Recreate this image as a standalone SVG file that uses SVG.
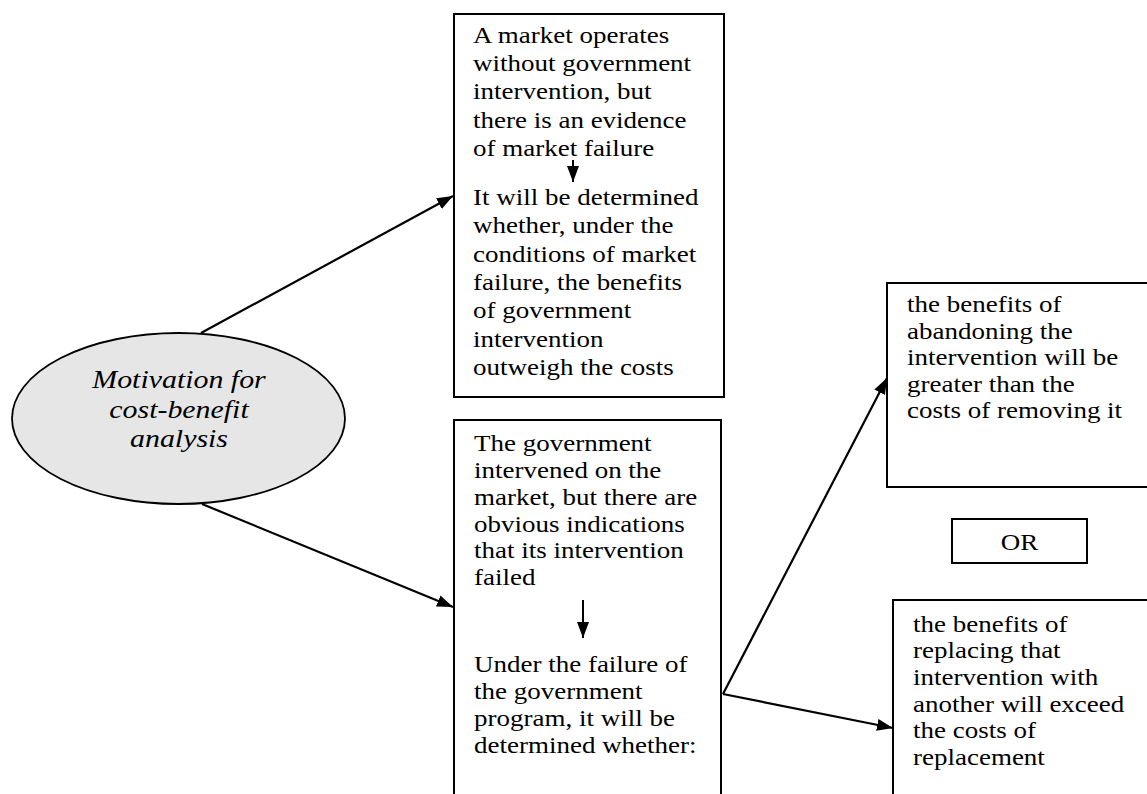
<svg xmlns="http://www.w3.org/2000/svg" width="1147" height="794" viewBox="0 0 1147 794">
<defs>
<style>
.box{fill:#fff;stroke:#000;stroke-width:2}
.t{font-family:"Liberation Serif","Times New Roman","DejaVu Serif",serif;font-size:24px;fill:#000}
.ti{font-family:"Liberation Serif","Times New Roman","DejaVu Serif",serif;font-size:26px;font-style:italic;fill:#000}
.c{fill:none;stroke:#000;stroke-width:2.2}
</style>
<marker id="ah" markerUnits="userSpaceOnUse" markerWidth="18" markerHeight="14" refX="16" refY="6" orient="auto">
<path d="M0,0 L16,6 L0,12 Z" fill="#000"/>
</marker>
</defs>
<rect width="1147" height="794" fill="#fff"/>

<g id="node-motivation">
<ellipse cx="178.5" cy="418.5" rx="166.5" ry="85.5" fill="#e6e6e6" stroke="#000" stroke-width="1.8"/>
<text class="ti" text-anchor="middle" transform="translate(179,0) scale(1.15,1)"><tspan x="0" y="388">Motivation for</tspan><tspan x="0" y="418">cost-benefit</tspan><tspan x="0" y="447">analysis</tspan></text>
</g>

<g id="node-market-failure">
<rect class="box" x="454" y="14" width="270" height="383"/>
<text class="t" transform="translate(473,0) scale(1.125,1)"><tspan x="0" y="43">A market operates</tspan><tspan x="0" y="71">without government</tspan><tspan x="0" y="99">intervention, but</tspan><tspan x="0" y="128">there is an evidence</tspan><tspan x="0" y="156">of market failure</tspan></text>
<line x1="573" y1="160" x2="573" y2="182" stroke="#000" stroke-width="2" marker-end="url(#ah)"/>
<text class="t" transform="translate(473,0) scale(1.125,1)"><tspan x="0" y="205">It will be determined</tspan><tspan x="0" y="233">whether, under the</tspan><tspan x="0" y="262">conditions of market</tspan><tspan x="0" y="290">failure, the benefits</tspan><tspan x="0" y="318">of government</tspan><tspan x="0" y="347">intervention</tspan><tspan x="0" y="375">outweigh the costs</tspan></text>
</g>

<g id="node-government-failure">
<rect class="box" x="454" y="420" width="267" height="390"/>
<text class="t" transform="translate(474,0) scale(1.125,1)"><tspan x="0" y="451">The government</tspan><tspan x="0" y="478">intervened on the</tspan><tspan x="0" y="505">market, but there are</tspan><tspan x="0" y="532">obvious indications</tspan><tspan x="0" y="558">that its intervention</tspan><tspan x="0" y="585">failed</tspan></text>
<line x1="583" y1="600" x2="583" y2="638" stroke="#000" stroke-width="2" marker-end="url(#ah)"/>
<text class="t" transform="translate(474,0) scale(1.125,1)"><tspan x="0" y="672">Under the failure of</tspan><tspan x="0" y="699">the government</tspan><tspan x="0" y="726">program, it will be</tspan><tspan x="0" y="753">determined whether:</tspan></text>
</g>

<g id="node-abandon">
<rect class="box" x="887" y="283" width="270" height="204"/>
<text class="t" transform="translate(907,0) scale(1.125,1)"><tspan x="0" y="312">the benefits of</tspan><tspan x="0" y="339">abandoning the</tspan><tspan x="0" y="365">intervention will be</tspan><tspan x="0" y="392">greater than the</tspan><tspan x="0" y="418">costs of removing it</tspan></text>
</g>

<g id="node-or">
<rect class="box" x="952" y="519" width="135" height="44"/>
<text class="t" text-anchor="middle" transform="translate(1019.5,0) scale(1.125,1)" x="0" y="550">OR</text>
</g>

<g id="node-replace">
<rect class="box" x="893" y="600" width="270" height="210"/>
<text class="t" transform="translate(913,0) scale(1.125,1)"><tspan x="0" y="632">the benefits of</tspan><tspan x="0" y="658">replacing that</tspan><tspan x="0" y="685">intervention with</tspan><tspan x="0" y="712">another will exceed</tspan><tspan x="0" y="738">the costs of</tspan><tspan x="0" y="765">replacement</tspan></text>
</g>

<g id="connectors">
<line class="c" x1="201" y1="333" x2="453" y2="196" marker-end="url(#ah)"/>
<line class="c" x1="202" y1="504" x2="453" y2="607" marker-end="url(#ah)"/>
<line class="c" x1="723" y1="694" x2="893" y2="728" marker-end="url(#ah)"/>
<line class="c" x1="723" y1="694" x2="887" y2="378" marker-end="url(#ah)"/>
</g>
</svg>
